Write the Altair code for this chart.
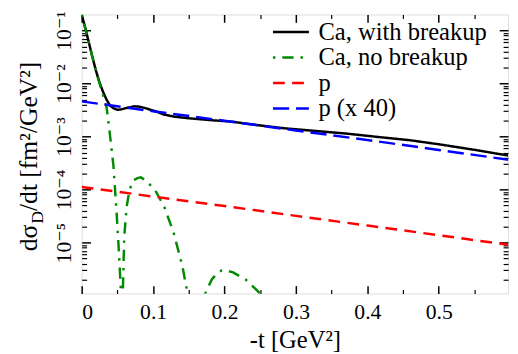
import altair as alt
import pandas as pd

series_names = ["Ca, with breakup", "Ca, no breakup", "p", "p (x 40)"]
series_colors = ["#000000", "#008b00", "#ff0000", "#0000ff"]
series_dashes = [[1, 0], [2.5, 7, 11.5, 7], [12, 7.5], [16.5, 7]]

ca_break_t = [0, 0.005, 0.010, 0.015, 0.020, 0.025, 0.030, 0.035, 0.040, 0.045,
              0.050, 0.055, 0.060, 0.067, 0.074, 0.080, 0.088, 0.095, 0.105, 0.115,
              0.13, 0.15, 0.18, 0.21, 0.25, 0.28, 0.32, 0.37, 0.42, 0.46, 0.50, 0.55, 0.598]
ca_break_v = [0.2, 0.112, 0.0596, 0.0316, 0.0174, 0.0105, 0.0069, 0.0049, 0.0038, 0.00339,
              0.0032, 0.00324, 0.00339, 0.00355, 0.00372, 0.00367, 0.00347, 0.00324, 0.00295, 0.0026,
              0.00237, 0.00221, 0.00204, 0.00191, 0.00162, 0.00145, 0.0013, 0.00114, 0.000966, 0.000851,
              0.000716, 0.000562, 0.000437]

ca_nobreak_t = [0, 0.005, 0.010, 0.015, 0.020, 0.025, 0.030, 0.035, 0.0385, 0.0445,
                0.049, 0.0514, 0.0536, 0.055, 0.0555, 0.0565, 0.0596, 0.063, 0.067, 0.072,
                0.078, 0.083, 0.0926, 0.104, 0.1155, 0.129, 0.141, 0.147, 0.160, 0.173,
                0.182, 0.189, 0.196, 0.204, 0.212, 0.230, 0.248, 0.26]
ca_nobreak_v = [0.2, 0.11, 0.059, 0.0316, 0.0174, 0.01, 0.006, 0.00347, 0.00145, 0.00028,
                3.5e-5, 1.0e-5, 2.75e-6, 1.17e-6, 1e-8, 3e-7, 1.3e-5, 4.8e-5, 9.8e-5, 1.48e-4,
                1.65e-4, 1.7e-4, 1.38e-4, 9.1e-5, 4.8e-5, 1.5e-5, 3.6e-6, 1.35e-6, 1e-9, 1.1e-6,
                2.0e-6, 2.6e-6, 3.0e-6, 2.95e-6, 2.75e-6, 2.0e-6, 1.17e-6, 4e-7]

p_t = [0, 0.1, 0.2, 0.3, 0.4, 0.5, 0.598]
p_v = [1.12e-4, 7.4e-5, 4.9e-5, 3.2e-5, 2.1e-5, 1.38e-5, 9.1e-6]

p40_t = [0, 0.1, 0.2, 0.3, 0.4, 0.5, 0.598]
p40_v = [4.6e-3, 3.0e-3, 1.98e-3, 1.3e-3, 8.6e-4, 5.6e-4, 3.65e-4]

x_major = [0, 0.1, 0.2, 0.3, 0.4, 0.5]
x_minor = [0.05, 0.15, 0.25, 0.35, 0.45, 0.55]
x_labels = ["0", "0.1", "0.2", "0.3", "0.4", "0.5"]
y_major = [1e-5, 1e-4, 1e-3, 1e-2, 1e-1]
y_exps = [-5, -4, -3, -2, -1]
y_labels = ["10⁻⁵", "10⁻⁴", "10⁻³", "10⁻²", "10⁻¹"]
y_minor = [k * 10.0 ** d for d in range(-6, 0) for k in range(2, 10) if 1.1e-6 < k * 10.0 ** d < 0.2]

W, H = 434, 284
FONT = "Liberation Serif, Times New Roman, DejaVu Serif, serif"

rows = []
for name, ts, vs in zip(series_names,
                        [ca_break_t, ca_nobreak_t, p_t, p40_t],
                        [ca_break_v, ca_nobreak_v, p_v, p40_v]):
    for i, (t, v) in enumerate(zip(ts, vs)):
        rows.append({"t": t, "v": v, "series": name, "i": i})
df = pd.DataFrame(rows)

xscale = alt.Scale(domain=[0, 0.597], nice=False, zero=False)
yscale = alt.Scale(type="log", domain=[1.1e-6, 0.2], nice=False)

x_expr = "''"
for v, lab in reversed(list(zip(x_major, x_labels))):
    x_expr = f"abs(datum.value - {v}) < 0.001 ? '{lab}' : " + x_expr
y_expr = "''"
for e, lab in reversed(list(zip(y_exps, y_labels))):
    y_expr = f"round(log(datum.value)/LN10) == {e} ? '{lab}' : " + y_expr

legend = alt.Legend(
    title=None, orient="none", legendX=193, legendY=5,
    symbolType="stroke", symbolSize=1340, symbolStrokeWidth=2.5,
    labelFont=FONT, labelFontSize=25, labelColor="black", labelOffset=8,
    labelLimit=400, rowPadding=0, padding=0, clipHeight=25.5,
)

main = alt.Chart(df).mark_line(clip=True, strokeWidth=2.5).encode(
    x=alt.X("t:Q", scale=xscale, axis=alt.Axis(
        orient="bottom", values=x_major, labelExpr=x_expr, ticks=False, tickSize=0,
        domain=False, grid=False, title="-t [GeV²]", labelFont=FONT, labelFontSize=22,
        titleFont=FONT, titleFontSize=25, titleFontWeight="normal", labelPadding=8,
        titlePadding=6, labelColor="black", titleColor="black")),
    y=alt.Y("v:Q", scale=yscale, axis=alt.Axis(
        orient="left", values=y_major, labelExpr=y_expr, ticks=False, tickSize=0,
        domain=False, grid=False, title=None, labelAngle=270, labelAlign="center",
        labelBaseline="bottom", labelPadding=6, labelFont=FONT, labelFontSize=22,
        labelColor="black")),
    color=alt.Color("series:N", scale=alt.Scale(domain=series_names, range=series_colors),
                    legend=legend),
    strokeDash=alt.StrokeDash("series:N", scale=alt.Scale(domain=series_names, range=series_dashes),
                              legend=legend),
    order="i:Q",
)


def tick_layer(xorient, xoff, xvals, xlen, xw, yorient, yoff, yvals, ylen, yw):
    return alt.Chart(df).mark_point(opacity=0).encode(
        x=alt.X("t:Q", scale=xscale, axis=alt.Axis(
            orient=xorient, offset=xoff, values=xvals, tickSize=xlen, tickWidth=xw,
            tickColor="black", labels=False, domain=False, grid=False, title=None)),
        y=alt.Y("v:Q", scale=yscale, axis=alt.Axis(
            orient=yorient, offset=yoff, values=yvals, tickSize=ylen, tickWidth=yw,
            tickColor="black", labels=False, domain=False, grid=False, title=None)),
    )


ticks_a = tick_layer("top", -H, x_major, 8, 1.5, "right", -W, y_major, 9, 1.5)
ticks_b = tick_layer("top", -H, x_minor, 4, 1.2, "right", -W, y_minor, 5, 1.2)
ticks_c = tick_layer("bottom", -H, x_major, 8, 1.5, "left", -W, y_major, 9, 1.5)
ticks_d = tick_layer("bottom", -H, x_minor, 4, 1.2, "left", -W, y_minor, 5, 1.2)

one = pd.DataFrame({"a": [0]})
title_main = alt.Chart(one).mark_text(
    text="dσ", angle=270, align="left", baseline="alphabetic", font=FONT, fontSize=26,
    color="black").encode(x=alt.value(-45), y=alt.value(241))
title_sub = alt.Chart(one).mark_text(
    text="D", angle=270, align="left", baseline="alphabetic", font=FONT, fontSize=18,
    color="black").encode(x=alt.value(-39), y=alt.value(213))
title_rest = alt.Chart(one).mark_text(
    text="/dt [fm²/GeV²]", angle=270, align="left", baseline="alphabetic", font=FONT,
    fontSize=26, color="black").encode(x=alt.value(-45), y=alt.value(200))

chart = alt.layer(main, ticks_a, ticks_b, ticks_c, ticks_d, title_main, title_sub, title_rest).resolve_axis(
    x="independent", y="independent"
).properties(
    width=W, height=H,
    padding={"left": 75, "top": 3.5, "right": 2, "bottom": 60},
    autosize=alt.AutoSizeParams(type="none"),
).configure_view(stroke="black", strokeWidth=1.5).configure(background="white", font=FONT)

chart.save("out.html", embed_options={"renderer": "svg", "actions": False})
